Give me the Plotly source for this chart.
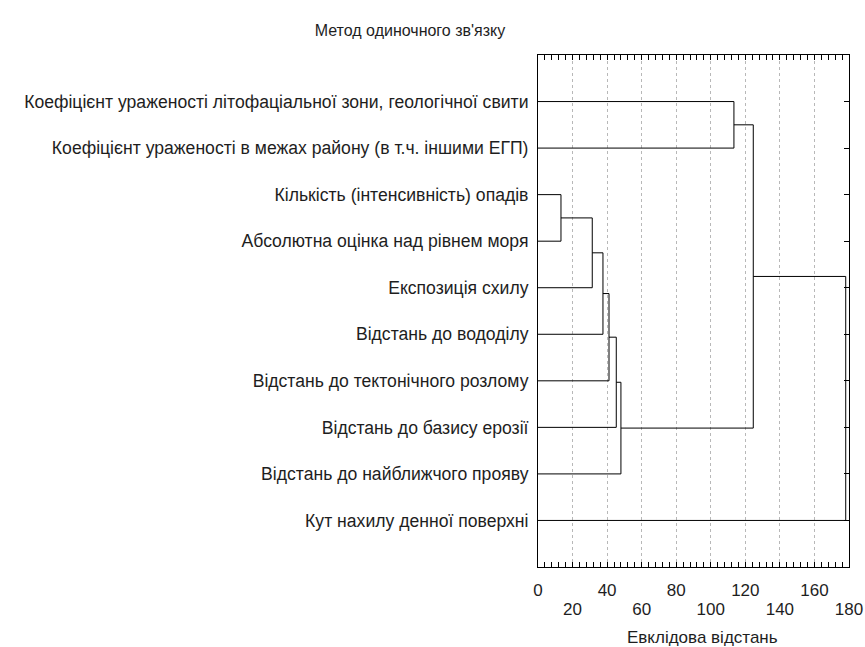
import plotly.graph_objects as go

# ---- data ----
labels = [
    "Коефіцієнт ураженості літофаціальної зони, геологічної свити",
    "Коефіцієнт ураженості в межах району (в т.ч. іншими ЕГП)",
    "Кількість (інтенсивність) опадів",
    "Абсолютна оцінка над рівнем моря",
    "Експозиція схилу",
    "Відстань до вододілу",
    "Відстань до тектонічного розлому",
    "Відстань до базису ерозії",
    "Відстань до найближчого прояву",
    "Кут нахилу денної поверхні",
]
# merges: (child_a, child_b, distance); leaves are 0..9, new clusters 10..
merge_a = [0, 2, 11, 12, 13, 14, 15, 10, 17]
merge_b = [1, 3, 4, 5, 6, 7, 8, 16, 9]
merge_dist = [113.4, 13.3, 31.4, 37.6, 41.1, 45.3, 48.0, 124.6, 178.1]

x_major = [0, 20, 40, 60, 80, 100, 120, 140, 160, 180]
x_row1 = [0, 40, 80, 120, 160]
x_row2 = [20, 60, 100, 140, 180]

title_text = "Метод одиночного зв'язку"
xlabel_text = "Евклідова відстань"

# ---- build dendrogram segments ----
n = len(labels)
pos = {i: i + 1 for i in range(n)}
height = {i: 0.0 for i in range(n)}
xs, ys = [], []
for k, (a, b, d) in enumerate(zip(merge_a, merge_b, merge_dist)):
    ya, yb = pos[a], pos[b]
    xs += [height[a], d, d, height[b], None]
    ys += [ya, ya, yb, yb, None]
    node = n + k
    pos[node] = (ya + yb) / 2
    height[node] = d

W, H = 865, 647
L, R, T, B = 538, 849, 55, 567

FONT = "Liberation Sans"
TXT = "#1e1e1e"
fig = go.Figure()
fig.add_trace(go.Scatter(x=xs, y=ys, mode="lines",
                         line=dict(color="black", width=1),
                         hoverinfo="skip", showlegend=False))
# invisible helper traces for second row of x labels and right-side ticks
fig.add_trace(go.Scatter(x=[0, 180], y=[0, 0], xaxis="x2", mode="markers",
                         marker=dict(opacity=0), showlegend=False, hoverinfo="skip"))
fig.add_trace(go.Scatter(x=[0, 180], y=[0, 11], yaxis="y2", mode="markers",
                         marker=dict(opacity=0), showlegend=False, hoverinfo="skip"))

fig.update_layout(
    width=W, height=H,
    margin=dict(l=L, r=W - R, t=T, b=H - B, autoexpand=False),
    paper_bgcolor="white", plot_bgcolor="white",
    font=dict(family=FONT, size=17, color=TXT),
    title=dict(text=title_text, x=410 / W, xanchor="center",
               y=1 - 30 / H, yanchor="middle", yref="container",
               font=dict(family=FONT, size=16, color=TXT)),
    xaxis=dict(range=[0, 180], tickvals=x_major,
               ticktext=[str(v) if v in x_row1 else "" for v in x_major],
               showgrid=True, gridcolor="#b8b8b8", griddash="dot", gridwidth=1,
               zeroline=False, showline=True, linecolor="black", linewidth=1,
               mirror="allticks", ticks="inside", ticklen=5, tickcolor="black",
               minor=dict(dtick=4, ticks="inside", ticklen=3, tickcolor="black",
                          showgrid=False),
               ticklabelstandoff=8, fixedrange=True),
    xaxis2=dict(range=[0, 180], overlaying="x", side="bottom", anchor="y",
                tickvals=x_row2, ticktext=[str(v) for v in x_row2],
                showgrid=False, zeroline=False, showline=False, ticks="",
                ticklabelstandoff=30, fixedrange=True),
    yaxis=dict(range=[11, 0], tickvals=list(range(1, n + 1)), ticktext=labels,
               tickfont=dict(family=FONT, size=17.6, color=TXT),
               showgrid=False, zeroline=False, showline=True, linecolor="black",
               linewidth=1, mirror=True, ticks="",
               ticklabelstandoff=5, fixedrange=True),
    yaxis2=dict(range=[11, 0], overlaying="y", side="right", anchor="x",
                tickvals=list(range(1, n + 1)), showticklabels=False,
                ticks="inside", ticklen=5, tickcolor="black",
                showgrid=False, zeroline=False, showline=False, fixedrange=True),
    annotations=[dict(text=xlabel_text, x=(702 - L) / (R - L),
                      xref="paper", xanchor="center", yref="paper",
                      y=-(637 - B) / (B - T), yanchor="middle", showarrow=False,
                      font=dict(family=FONT, size=17, color=TXT))],
)

fig.write_html(
    "out.html",
    config={"displayModeBar": False},
    post_script="document.body.style.margin='0';"
                "document.body.style.overflow='hidden';",
)
